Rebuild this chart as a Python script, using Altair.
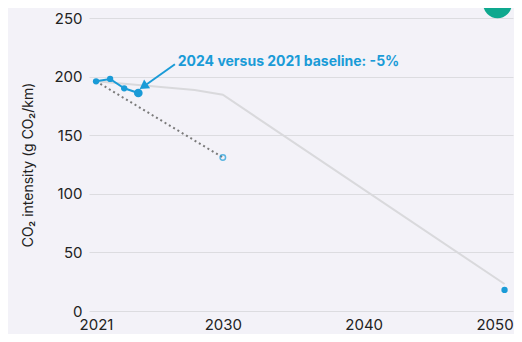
import altair as alt
import pandas as pd

# ---- data ----
actual_years = [2021, 2022, 2023, 2024]
actual_values = [196, 198, 190, 186]
point_sizes = [40, 40, 40, 75]

target_years = [2021, 2028, 2030, 2050]
target_values = [196, 188.5, 184.5, 23]

proj_years = [2021, 2030]
proj_values = [196, 131]

goal2050_year = [2050]
goal2050_value = [18]

arrow_from = (2026.6, 210.5)
arrow_to = (2024.6, 193.5)
label_text = "2024 versus 2021 baseline: -5%"
label_pos = (2026.8, 212.5)

badge_year = [2049.5]
badge_value = [262]

x_ticks = [2021, 2030, 2040, 2050]
y_grid = [0, 25, 50, 75, 100, 125, 150, 175, 200, 225, 250]

BLUE = "#1a9bd7"
GREY = "#d9d9dc"
FONT = "Inter"

actual = pd.DataFrame({"year": actual_years, "v": actual_values, "s": point_sizes})
target = pd.DataFrame({"year": target_years, "v": target_values})
proj = pd.DataFrame({"year": proj_years, "v": proj_values})
goal = pd.DataFrame({"year": goal2050_year, "v": goal2050_value})
arrow = pd.DataFrame({"year": [arrow_from[0]], "v": [arrow_from[1]],
                      "year2": [arrow_to[0]], "v2": [arrow_to[1]]})
tip = pd.DataFrame({"year": [arrow_to[0] - 0.15], "v": [arrow_to[1] - 1.2]})
lab = pd.DataFrame({"year": [label_pos[0]], "v": [label_pos[1]], "t": [label_text]})
badge = pd.DataFrame({"year": badge_year, "v": badge_value})

xscale = alt.Scale(domain=[2020.5, 2050.6], nice=False, zero=False)
yscale = alt.Scale(domain=[0, 250], nice=False)

X = alt.X("year:Q", scale=xscale, axis=alt.Axis(
    values=x_ticks, format="d", grid=False, domain=False, ticks=False,
    labelFontSize=15, labelColor="#222222", labelFont=FONT, labelPadding=6,
    title=None, labelFlush=False,
    labelOffset=alt.ExprRef("datum.value == 2050 ? -10 : 0")))
Y = alt.Y("v:Q", scale=yscale, axis=alt.Axis(
    values=y_grid, labelExpr="datum.value % 50 == 0 ? datum.label : ''",
    grid=True, gridColor="#dcdce0", gridWidth=1, domain=False, ticks=False,
    labelFontSize=15, labelColor="#222222", labelFont=FONT, labelPadding=7,
    title="CO₂ intensity (g CO₂/km)", titleFontSize=14, titleFontWeight="normal",
    titleColor="#222222", titleFont=FONT, titlePadding=18))

base_x = alt.X("year:Q", scale=xscale)
base_y = alt.Y("v:Q", scale=yscale)

target_line = alt.Chart(target).mark_line(color=GREY, strokeWidth=2).encode(x=X, y=Y)
proj_line = alt.Chart(proj).mark_line(color="#7a7a7a", strokeWidth=2, strokeDash=[2, 3]).encode(x=base_x, y=base_y)
proj_pt = alt.Chart(proj[proj.year == 2030]).mark_point(
    shape="circle", filled=False, color=BLUE, strokeWidth=1.5, size=30).encode(x=base_x, y=base_y)
act_line = alt.Chart(actual).mark_line(color=BLUE, strokeWidth=2).encode(x=base_x, y=base_y)
act_pts = alt.Chart(actual).mark_circle(color=BLUE, opacity=1).encode(
    x=base_x, y=base_y, size=alt.Size("s:Q", scale=None, legend=None))
goal_pt = alt.Chart(goal).mark_circle(color=BLUE, opacity=1, size=40).encode(x=base_x, y=base_y)
arrow_line = alt.Chart(arrow).mark_rule(color=BLUE, strokeWidth=2).encode(
    x=base_x, y=base_y, x2="year2:Q", y2="v2:Q")
arrow_tip = alt.Chart(tip).mark_point(shape="triangle", filled=True, color=BLUE,
                                      opacity=1, size=110, angle=235).encode(x=base_x, y=base_y)
label = alt.Chart(lab).mark_text(align="left", baseline="middle", color=BLUE,
                                 fontSize=14, fontWeight="bold", font=FONT).encode(
    x=base_x, y=base_y, text="t:N")
badge_pt = alt.Chart(badge).mark_circle(color="#0ea88e", opacity=1, size=820).encode(x=base_x, y=base_y)

chart = alt.layer(target_line, proj_line, proj_pt, act_line, act_pts, goal_pt,
                  arrow_line, arrow_tip, label, badge_pt).properties(
    width=424, height=293,
    padding={"left": 81, "top": 10, "right": 1, "bottom": 23},
    autosize=alt.AutoSizeParams(type="none"),
    background="#f3f2f8",
).configure_view(stroke=None)

chart.save("out.html", embed_options={"renderer": "svg", "actions": False})
